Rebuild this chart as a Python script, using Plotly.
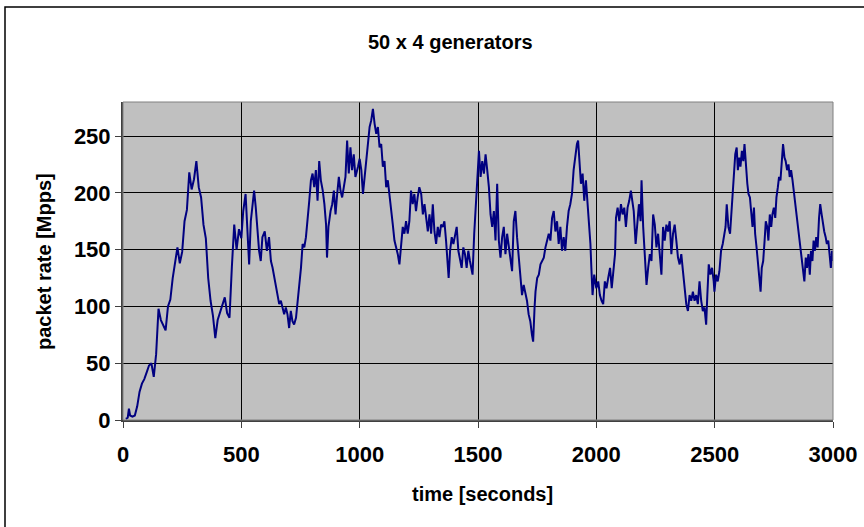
import plotly.graph_objects as go

# time [s] and packet rate [Mpps]
time_s = [
    12, 20, 25, 30, 40, 50, 60, 70, 80, 90, 100, 110, 120, 130, 140, 150, 160, 170, 180, 190,
    200, 210, 220, 230, 240, 250, 260, 270, 280, 290, 300, 310, 320, 330, 340, 350, 360, 370, 380, 390,
    400, 410, 420, 430, 440, 450, 460, 470, 480, 490,
    500, 508, 518, 525, 533, 540, 547, 554, 561, 568, 575, 582, 589, 599, 608, 617, 625, 632, 639, 646,
    653, 660, 667, 674, 681, 688, 695, 702, 709, 716, 723, 731, 738, 745, 752, 759, 766, 773, 780, 787,
    794, 801, 808, 815, 822, 829, 836, 844, 851, 858, 862, 868, 877, 884, 891, 898, 905, 912, 919, 926,
    933, 940, 947, 954, 961, 968, 975, 982, 993,
    1000, 1007, 1014, 1021, 1028, 1035, 1042, 1049, 1056, 1063, 1070, 1077, 1084, 1091, 1098, 1105, 1112, 1119, 1126, 1133,
    1140, 1147, 1154, 1161, 1168, 1175, 1182, 1189, 1196, 1203, 1210, 1217, 1224, 1231, 1238, 1245, 1252, 1260, 1267, 1274,
    1281, 1288, 1295, 1302, 1309, 1316, 1323, 1330, 1337, 1344, 1351, 1358, 1365, 1372, 1376, 1382, 1389, 1396, 1403, 1410,
    1417, 1424, 1431, 1438, 1445, 1452, 1459, 1466, 1473, 1477, 1484, 1491, 1498,
    1504, 1511, 1518, 1525, 1532, 1539, 1546, 1553, 1560, 1567, 1574, 1581, 1584, 1588, 1595, 1602, 1609, 1616, 1623, 1630,
    1637, 1644, 1651, 1658, 1665, 1672, 1679, 1686, 1693, 1700, 1707, 1714, 1721, 1728, 1733, 1739, 1743, 1750, 1757, 1764,
    1771, 1778, 1785, 1792, 1799, 1806, 1813, 1820, 1827, 1834, 1841, 1848, 1855, 1862, 1869, 1876, 1883, 1890, 1897, 1904,
    1911, 1918, 1923, 1930, 1935, 1942, 1949, 1956, 1963, 1970, 1975, 1979, 1984, 1991,
    2000, 2008, 2015, 2022, 2029, 2036, 2043, 2050, 2058, 2065, 2072, 2079, 2083, 2090, 2097, 2104, 2111, 2118, 2125, 2132,
    2139, 2146, 2152, 2158, 2166, 2173, 2180, 2187, 2191, 2198, 2205, 2212, 2219, 2226, 2233, 2240, 2247, 2254, 2261, 2268,
    2275, 2282, 2289, 2296, 2303, 2310, 2317, 2324, 2331, 2338, 2345, 2352, 2359, 2366, 2373, 2380, 2387, 2394, 2401, 2408,
    2415, 2422, 2429, 2436, 2443, 2450, 2457, 2464, 2469, 2475, 2482, 2489, 2496,
    2499, 2506, 2513, 2520, 2527, 2534, 2539, 2546, 2551, 2558, 2565, 2570, 2576, 2581, 2587, 2593, 2598, 2604, 2609, 2615,
    2621, 2626, 2632, 2638, 2643, 2649, 2654, 2660, 2666, 2671, 2677, 2683, 2688, 2694, 2699, 2705, 2711, 2716, 2722, 2727,
    2733, 2739, 2744, 2750, 2756, 2761, 2767, 2772, 2778, 2784, 2789, 2795, 2800, 2806, 2812, 2817, 2823, 2829, 2834, 2840,
    2845, 2851, 2857, 2862, 2868, 2873, 2879, 2885, 2890, 2896, 2902, 2907, 2913, 2918, 2924, 2929, 2935, 2941, 2946, 2952,
    2958, 2963, 2969, 2974, 2980, 2985, 2991, 2996, 3000,
]

rate_mpps = [
    1, 2, 10, 4, 3, 4, 12, 25, 32, 36, 42, 48, 50, 38, 58, 98, 88, 84, 79, 100,
    106, 125, 140, 152, 138, 148, 175, 185, 218, 203, 212, 228, 205, 196, 172, 160, 125, 105, 92, 72,
    88, 95, 100, 108, 94, 90, 135, 172, 150, 168,
    160, 184, 199, 175, 137, 175, 190, 202, 187, 170, 149, 140, 161, 166, 149, 161, 140, 134, 125, 116,
    110, 102, 105, 99, 93, 99, 93, 81, 96, 87, 84, 90, 105, 116, 134, 155, 152, 161, 175, 193,
    211, 217, 205, 220, 193, 228, 211, 202, 190, 172, 143, 170, 184, 190, 202, 181, 199, 214, 202, 196,
    205, 214, 246, 217, 240, 220, 234, 214, 223,
    230, 220, 199, 214, 228, 243, 258, 264, 274, 261, 252, 258, 240, 243, 223, 228, 205, 211, 196, 184,
    172, 158, 152, 146, 137, 155, 170, 164, 175, 164, 175, 202, 190, 199, 184, 196, 205, 199, 181, 190,
    178, 166, 181, 164, 190, 166, 155, 170, 161, 172, 170, 175, 158, 140, 125, 149, 161, 155, 164, 170,
    149, 140, 134, 152, 146, 134, 149, 140, 131, 128, 164, 187, 208,
    237, 214, 228, 217, 234, 220, 205, 181, 170, 184, 158, 208, 175, 158, 143, 161, 170, 146, 164, 152,
    143, 131, 175, 184, 161, 146, 125, 110, 119, 113, 105, 93, 87, 75, 69, 99, 113, 125, 128, 137,
    140, 143, 152, 158, 164, 158, 178, 184, 166, 175, 155, 170, 149, 161, 149, 170, 184, 190, 199, 220,
    234, 243, 246, 220, 208, 217, 193, 211, 190, 175, 155, 134, 110, 128,
    116, 122, 110, 105, 102, 122, 116, 125, 134, 116, 131, 146, 178, 187, 175, 190, 181, 187, 170, 187,
    193, 202, 193, 184, 155, 170, 190, 175, 211, 170, 146, 119, 134, 146, 140, 181, 172, 152, 164, 143,
    128, 170, 158, 172, 166, 175, 146, 164, 172, 158, 143, 137, 146, 131, 116, 102, 96, 110, 105, 113,
    105, 110, 102, 122, 105, 96, 99, 84, 110, 137, 128, 134, 122,
    113, 128, 122, 131, 149, 155, 161, 170, 190, 170, 164, 181, 199, 217, 234, 240, 220, 231, 223, 237,
    228, 243, 220, 208, 199, 196, 184, 170, 187, 164, 152, 140, 128, 113, 134, 140, 158, 175, 170, 158,
    181, 170, 181, 187, 178, 196, 205, 214, 211, 228, 243, 231, 228, 220, 225, 214, 220, 211, 202, 193,
    184, 172, 164, 152, 140, 131, 122, 143, 134, 146, 128, 149, 140, 158, 149, 161, 152, 178, 190, 181,
    172, 166, 161, 155, 158, 149, 134, 149, 140,
]

x_ticks = [0, 500, 1000, 1500, 2000, 2500, 3000]
y_ticks = [0, 50, 100, 150, 200, 250]

FONT = "Arial, 'Liberation Sans', sans-serif"
TICK_SIZE = 22
TITLE_SIZE = 20

fig = go.Figure()
fig.add_trace(go.Scatter(
    x=time_s, y=rate_mpps, mode="lines",
    line=dict(color="#000080", width=2),
    showlegend=False, hoverinfo="skip",
))

L, R, T, B = 123, 31, 102, 107
W, H = 864, 527
pw, ph = W - L - R, H - T - B

def px_x(p):
    return (p - L) / pw

def px_y(p):
    return (H - B - p) / ph

fig.update_layout(
    width=W, height=H,
    margin=dict(l=L, r=R, t=T, b=B, autoexpand=False),
    paper_bgcolor="white",
    plot_bgcolor="#C0C0C0",
    font=dict(family=FONT, color="black", size=TICK_SIZE),
    xaxis=dict(
        range=[0, 3000], tickvals=x_ticks, ticks="outside", ticklen=6,
        tickcolor="#404040", tickwidth=1, ticklabelstandoff=8,
        showgrid=True, gridcolor="black", gridwidth=1,
        showline=True, linecolor="#404040", linewidth=2, mirror=False,
        zeroline=False,
        tickfont=dict(family=FONT, size=TICK_SIZE, color="black", weight="bold"),
        title=None,
    ),
    yaxis=dict(
        range=[0, 280], tickvals=y_ticks, ticks="outside", ticklen=6,
        tickcolor="#404040", tickwidth=1, ticksuffix="\u00a0\u00a0\u00a0",
        showgrid=True, gridcolor="black", gridwidth=1,
        showline=True, linecolor="#404040", linewidth=2, mirror=False,
        zeroline=False,
        tickfont=dict(family=FONT, size=TICK_SIZE, color="black", weight="bold"),
        title=None,
    ),
)

# plot area frame (top / right) in gray
fig.add_shape(type="rect", xref="paper", yref="paper", x0=0, x1=1, y0=0, y1=1,
              line=dict(color="#808080", width=1), layer="above")
# outer chart border
fig.add_shape(type="rect", xref="paper", yref="paper",
              x0=px_x(5), x1=px_x(880), y0=px_y(545), y1=px_y(7),
              line=dict(color="black", width=1.5), layer="above")

ann = dict(xref="paper", yref="paper", showarrow=False, xanchor="center", yanchor="middle")
fig.add_annotation(text="<b>50 x 4 generators</b>", x=px_x(450), y=px_y(42),
                   font=dict(family=FONT, size=TITLE_SIZE, color="black"), **ann)
fig.add_annotation(text="<b>time [seconds]</b>", x=px_x(482), y=px_y(494),
                   font=dict(family=FONT, size=TITLE_SIZE, color="black"), **ann)
fig.add_annotation(text="<b>packet rate [Mpps]</b>", x=px_x(44), y=px_y(262), textangle=-90,
                   font=dict(family=FONT, size=TITLE_SIZE, color="black"), **ann)

fig.write_html(
    "out.html",
    config={"displayModeBar": False, "staticPlot": True},
    post_script="document.body.style.margin='0';document.body.style.overflow='hidden';",
)
